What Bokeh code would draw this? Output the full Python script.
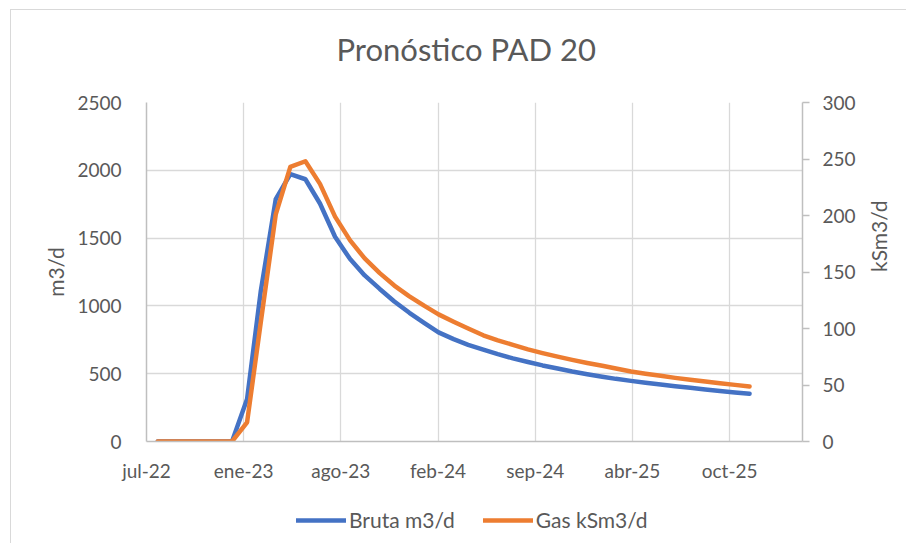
import math
import pandas as pd
from bokeh.plotting import figure
from bokeh.layouts import column
from bokeh.models import Range1d, LinearAxis, FixedTicker, Legend, LegendItem, Title
from bokeh.embed import file_html
from bokeh.resources import INLINE

# ---------------- data ----------------
chart_title = "Pronóstico PAD 20"
axis_start_date = "2022-07-08"
axis_span_days = 1350
tick_dates = ["2022-07-08", "2023-01-24", "2023-08-12", "2024-02-28",
              "2024-09-15", "2025-04-03", "2025-10-20"]
tick_labels = ["jul-22", "ene-23", "ago-23", "feb-24", "sep-24", "abr-25", "oct-25"]

months = pd.date_range("2022-07-31", periods=41, freq="ME")

bruta_m3d = [0, 0, 0, 0, 0, 0, 314, 1105, 1787, 1971, 1934, 1755, 1510, 1345, 1225,
             1125, 1033, 949, 873, 805, 755, 713, 677, 644, 613, 586, 561, 538, 516,
             496, 478, 462, 447, 433, 420, 408, 396, 384, 373, 362, 352]
gas_ksm3d = [0, 0, 0, 0, 0, 0, 17, 105, 201, 243, 248, 228, 199, 178, 162, 149, 138,
             128.5, 120, 112.5, 106, 100, 94, 89.5, 85.5, 81.5, 78.2, 75.1, 72.2, 69.5,
             67.0, 64.6, 62.0, 60.0, 58.1, 56.3, 54.7, 53.1, 51.6, 50.1, 48.7]

left_ticks = [0, 500, 1000, 1500, 2000, 2500]
right_ticks = [0, 50, 100, 150, 200, 250, 300]
left_title = "m3/d"
right_title = "kSm3/d"
series_names = ["Bruta m3/d", "Gas kSm3/d"]

# ---------------- derived positions ----------------
t0 = pd.Timestamp(axis_start_date)
x_days = [int((d - t0).days) for d in months]
tick_days = [int((pd.Timestamp(d) - t0).days) for d in tick_dates]

FONT = "Lato"
TXT = "#595959"
AXC = "#BFBFBF"
GRC = "#D9D9D9"
BLUE = "#4472C4"
ORANGE = "#ED7D31"
W = 895

p = figure(width=W, height=491, output_backend="svg", toolbar_location=None,
           title=None,
           x_range=Range1d(0, axis_span_days), y_range=Range1d(0, 2500),
           min_border_left=135, min_border_right=104, min_border_top=92,
           min_border_bottom=60)
p.extra_y_ranges = {"gas": Range1d(0, 300)}
p.outline_line_color = None
p.background_fill_color = "white"
p.border_fill_color = "white"

# title (a thin spacer keeps it at the right height above the frame)
spacer_top = Title(text=" ", text_font_size="1px", standoff=32)
main_title = Title(text=chart_title, align="left", offset=190, standoff=0,
                   text_font=FONT, text_font_size="31px", text_font_style="normal",
                   text_color=TXT)
p.add_layout(spacer_top, "above")
p.add_layout(main_title, "above")

# x axis
xa = p.xaxis[0]
xa.ticker = FixedTicker(ticks=tick_days)
xa.major_label_overrides = {d: lab for d, lab in zip(tick_days, tick_labels)}
xa.major_label_text_font = FONT
xa.major_label_text_font_size = "19px"
xa.major_label_text_color = TXT
xa.major_label_standoff = 11
xa.major_tick_line_color = None
xa.minor_tick_line_color = None
xa.axis_line_color = AXC
xa.axis_line_width = 1.5

# left axis
ya = p.yaxis[0]
ya.ticker = FixedTicker(ticks=left_ticks)
ya.major_label_text_font = FONT
ya.major_label_text_font_size = "19px"
ya.major_label_text_color = TXT
ya.major_label_standoff = 19
ya.major_tick_line_color = None
ya.minor_tick_line_color = None
ya.axis_line_color = AXC
ya.axis_line_width = 1.5
ya.axis_label = left_title
ya.axis_label_text_font = FONT
ya.axis_label_text_font_size = "21px"
ya.axis_label_text_font_style = "normal"
ya.axis_label_text_color = TXT
ya.axis_label_standoff = 6

# right axis
ra = LinearAxis(y_range_name="gas", ticker=FixedTicker(ticks=right_ticks))
ra.major_label_text_font = FONT
ra.major_label_text_font_size = "19px"
ra.major_label_text_color = TXT
ra.major_label_standoff = 13
ra.major_tick_in = 0
ra.major_tick_out = 7
ra.major_tick_line_color = AXC
ra.major_tick_line_width = 1.5
ra.minor_tick_line_color = None
ra.axis_line_color = AXC
ra.axis_line_width = 1.5
p.add_layout(ra, "right")

# right axis title (reads bottom-to-top), drawn as a single rotated tick label
mid = (right_ticks[0] + right_ticks[-1]) / 2
rt = LinearAxis(y_range_name="gas", ticker=FixedTicker(ticks=[mid]))
rt.major_label_overrides = {mid: right_title}
rt.major_label_orientation = math.pi / 2
rt.major_label_text_font = FONT
rt.major_label_text_font_size = "21px"
rt.major_label_text_color = TXT
rt.major_label_standoff = 14
rt.major_tick_line_color = None
rt.minor_tick_line_color = None
rt.axis_line_color = None
p.add_layout(rt, "right")

# grids
p.xgrid.ticker = FixedTicker(ticks=tick_days)
p.ygrid.ticker = FixedTicker(ticks=left_ticks)
p.xgrid.grid_line_color = GRC
p.ygrid.grid_line_color = GRC
p.xgrid.grid_line_width = 1.3
p.ygrid.grid_line_width = 1.3

# lines
p.line(x_days, bruta_m3d, line_color=BLUE, line_width=4.5,
       line_join="round", line_cap="round")
p.line(x_days, gas_ksm3d, line_color=ORANGE, line_width=4.5,
       line_join="round", line_cap="round", y_range_name="gas")

# ---------------- legend strip below the chart ----------------
# the same series are drawn here but the view range excludes them,
# so only their legend entries are visible
lf = figure(width=W, height=42, output_backend="svg", toolbar_location=None,
            title=None, x_axis_type=None, y_axis_type=None, min_border=0,
            x_range=Range1d(-2, -1), y_range=Range1d(-2, -1))
lf.outline_line_color = None
lf.grid.visible = False
lb = lf.line(x_days, bruta_m3d, line_color=BLUE, line_width=4.5, line_cap="round")
lg = lf.line(x_days, gas_ksm3d, line_color=ORANGE, line_width=4.5, line_cap="round")
legend = Legend(items=[LegendItem(label=series_names[0], renderers=[lb]),
                       LegendItem(label=series_names[1], renderers=[lg])],
                orientation="horizontal", location=(150, 11),
                glyph_width=50, glyph_height=20, label_standoff=3, spacing=28,
                padding=0, margin=0,
                label_text_font=FONT, label_text_font_size="21px",
                label_text_color=TXT, border_line_color=None,
                background_fill_alpha=0)
lf.add_layout(legend, "center")

layout = column(p, lf, spacing=0,
                styles={"border-left": "1px solid #D9D9D9",
                        "border-top": "1px solid #D9D9D9",
                        "margin-left": "10px", "margin-top": "9px"})

open("out.html", "w").write(file_html(layout, INLINE))
